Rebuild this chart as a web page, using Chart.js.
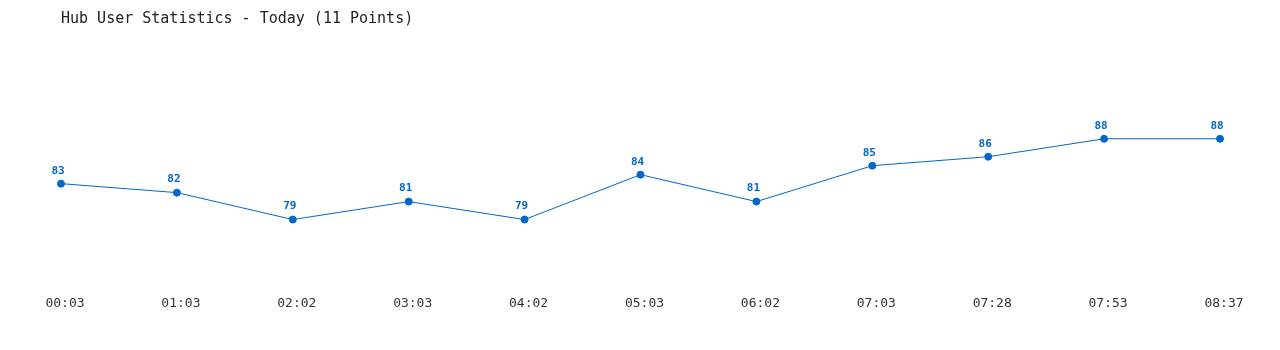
<!DOCTYPE html>
<html>
<head>
<meta charset="utf-8">
<script src="https://cdn.jsdelivr.net/npm/chart.js@4"></script>
<style>
  html, body { margin: 0; padding: 0; background: #fff; }
  #wrap { width: 1280px; height: 350px; }
</style>
</head>
<body>
<div id="wrap"><canvas id="hubChart"></canvas></div>
<script>
// times of the samples
const timeLabels = ["00:03", "01:03", "02:02", "03:03", "04:02", "05:03", "06:02", "07:03", "07:28", "07:53", "08:37"];
// users online at each sample
const userCounts = [83, 82, 79, 81, 79, 84, 81, 85, 86, 88, 88];

const chartTitle = "Hub User Statistics - Today (11 Points)";
const lineColor = "#0066cc";
const monoFont = "'DejaVu Sans Mono', 'Liberation Mono', monospace";

// draws the value above each point
const valueLabels = {
  id: "valueLabels",
  afterDatasetsDraw(chart) {
    const ctx = chart.ctx;
    const meta = chart.getDatasetMeta(0);
    ctx.save();
    ctx.font = "bold 11px " + monoFont;
    ctx.fillStyle = lineColor;
    ctx.textAlign = "center";
    ctx.textBaseline = "middle";
    meta.data.forEach(function (pt, i) {
      ctx.fillText(String(userCounts[i]), pt.x - 3, pt.y - 13);
    });
    ctx.restore();
  }
};

new Chart(document.getElementById("hubChart"), {
  type: "line",
  data: {
    labels: timeLabels,
    datasets: [{
      data: userCounts,
      borderColor: lineColor,
      backgroundColor: lineColor,
      borderWidth: 1,
      pointRadius: 3.5,
      pointHoverRadius: 3.5,
      tension: 0,
      fill: false
    }]
  },
  options: {
    responsive: true,
    maintainAspectRatio: false,
    animation: false,
    layout: { padding: { left: 61, right: 60, top: 10, bottom: 34 } },
    plugins: {
      legend: { display: false },
      tooltip: { enabled: false },
      title: {
        display: true,
        text: chartTitle,
        align: "start",
        color: "#222",
        font: { family: monoFont, size: 15, weight: "normal" },
        padding: { top: 0, bottom: 21 }
      }
    },
    scales: {
      x: {
        offset: false,
        grid: { display: false },
        border: { display: false },
        ticks: {
          color: "#333",
          font: { family: monoFont, size: 13 },
          padding: 5,
          labelOffset: 4,
          maxRotation: 0,
          autoSkip: false
        }
      },
      y: {
        display: false,
        min: 72,
        max: 98
      }
    }
  },
  plugins: [valueLabels]
});
</script>
</body>
</html>
